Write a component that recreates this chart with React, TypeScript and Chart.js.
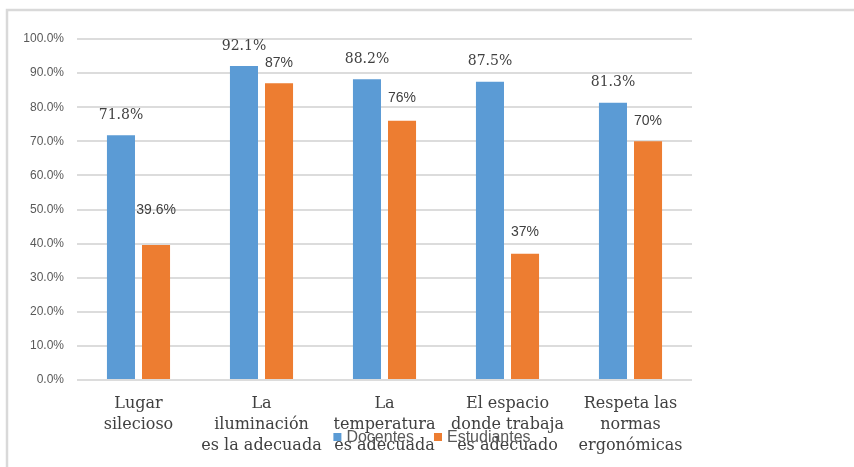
import React, { useEffect, useRef } from "react";
import { Chart, registerables } from "chart.js";

Chart.register(...registerables);

// Categories (multi-line labels) and the two series, in percent
const categories: string[][] = [
  ["Lugar", "silecioso"],
  ["La", "iluminación", "es la adecuada"],
  ["La", "temperatura", "es adecuada"],
  ["El espacio", "donde trabaja", "es adecuado"],
  ["Respeta las", "normas", "ergonómicas"],
];
const docentes: number[] = [71.8, 92.1, 88.2, 87.5, 81.3];
const estudiantes: number[] = [39.6, 87, 76, 37, 70];
const docentesLabels: string[] = ["71.8%", "92.1%", "88.2%", "87.5%", "81.3%"];
const estudiantesLabels: string[] = ["39.6%", "87%", "76%", "37%", "70%"];

// How far above each bar top its value label sits (px)
const docentesLift: number[] = [20, 20, 20, 20, 20];
const estudiantesLift: number[] = [35, 20, 23, 22, 20];

const BLUE = "#5B9BD5";
const ORANGE = "#ED7D31";
const TEXT = "#404040";
const GRID = "#dcdcdc";

const W = 854;
const H = 467;

const framePlugin = {
  id: "frame",
  beforeDraw(chart: any) {
    const ctx = chart.ctx;
    ctx.save();
    ctx.fillStyle = "#ffffff";
    ctx.fillRect(0, 0, chart.width, chart.height);
    ctx.strokeStyle = "#d9d9d9";
    ctx.lineWidth = 2.5;
    ctx.beginPath();
    ctx.moveTo(7, chart.height);
    ctx.lineTo(7, 10);
    ctx.lineTo(chart.width, 10);
    ctx.stroke();
    ctx.restore();
  },
};

const valueLabelPlugin = {
  id: "valueLabels",
  afterDatasetsDraw(chart: any) {
    const ctx = chart.ctx;
    ctx.save();
    ctx.textAlign = "center";
    ctx.textBaseline = "middle";
    ctx.fillStyle = TEXT;
    const m0 = chart.getDatasetMeta(0);
    ctx.font = '14px "DejaVu Serif", serif';
    m0.data.forEach((el: any, i: number) => {
      ctx.fillText(docentesLabels[i], el.x, el.y - docentesLift[i]);
    });
    const m1 = chart.getDatasetMeta(1);
    ctx.font = '14px "Liberation Sans", sans-serif';
    m1.data.forEach((el: any, i: number) => {
      ctx.fillText(estudiantesLabels[i], el.x, el.y - estudiantesLift[i]);
    });
    ctx.restore();
  },
};

// Legend drawn over the bottom of the category labels
const bottomLegendPlugin = {
  id: "bottomLegend",
  afterDraw(chart: any) {
    const ctx = chart.ctx;
    ctx.save();
    ctx.font = '16px "Liberation Sans", sans-serif';
    ctx.textBaseline = "middle";
    ctx.textAlign = "left";
    const box = 8;
    const gap = 5;
    const itemGap = 20;
    const items = chart.data.datasets.map((d: any) => ({
      label: d.label,
      color: d.backgroundColor,
      w: box + gap + ctx.measureText(d.label).width,
    }));
    const total = items.reduce((s: number, it: any) => s + it.w, 0) + itemGap * (items.length - 1);
    let x = 432 - total / 2;
    const y = 438;
    items.forEach((it: any) => {
      ctx.fillStyle = it.color;
      ctx.fillRect(x, y - box / 2 - 1, box, box);
      ctx.fillStyle = "#595959";
      ctx.fillText(it.label, x + box + gap, y);
      x += it.w + itemGap;
    });
    ctx.restore();
  },
};

export default function App() {
  const ref = useRef<HTMLCanvasElement | null>(null);

  useEffect(() => {
    if (!ref.current) return;
    const chart = new Chart(ref.current, {
      type: "bar",
      data: {
        labels: categories,
        datasets: [
          {
            label: "Docentes",
            data: docentes,
            backgroundColor: BLUE,
            categoryPercentage: 0.57,
            barPercentage: 0.8,
          },
          {
            label: "Estudiantes",
            data: estudiantes,
            backgroundColor: ORANGE,
            categoryPercentage: 0.57,
            barPercentage: 0.8,
          },
        ],
      },
      options: {
        animation: false,
        responsive: true,
        maintainAspectRatio: false,
        layout: { padding: { left: 0, top: 39, right: 162, bottom: 0 } },
        plugins: {
          legend: { display: false },
          tooltip: { enabled: false },
        },
        scales: {
          x: {
            grid: { display: false },
            border: { display: false },
            ticks: {
              color: TEXT,
              padding: 5,
              maxRotation: 0,
              autoSkip: false,
              font: { family: '"DejaVu Serif", serif', size: 16, lineHeight: 1.33 },
            },
            afterFit(scale: any) {
              scale.height = 87;
            },
          },
          y: {
            min: 0,
            max: 100,
            border: { display: false },
            grid: { color: GRID, lineWidth: 2, drawTicks: false },
            ticks: {
              stepSize: 10,
              padding: 13,
              color: "#595959",
              font: { family: '"Liberation Sans", sans-serif', size: 12 },
              callback: (v: any) => Number(v).toFixed(1) + "%",
            },
            afterFit(scale: any) {
              scale.width = 77;
            },
          },
        },
      },
      plugins: [framePlugin, valueLabelPlugin, bottomLegendPlugin],
    });
    return () => chart.destroy();
  }, []);

  return (
    <div style={{ position: "absolute", left: 0, top: 0, width: W, height: H }}>
      <canvas ref={ref} />
    </div>
  );
}
